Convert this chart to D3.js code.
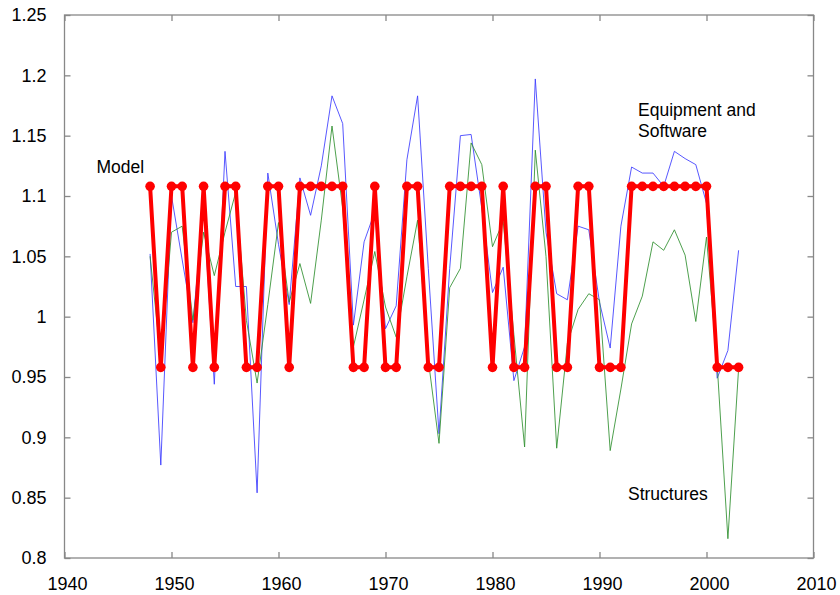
<!DOCTYPE html>
<html>
<head>
  <meta charset="utf-8">
  <script src="https://d3js.org/d3.v7.min.js"></script>
  <style>
    body { margin: 0; background: #fff; }
    svg { display: block; font-family: "Liberation Sans", Arial, sans-serif; }
  </style>
</head>
<body>
<svg width="840" height="595"></svg>
<script>
// years shown on the chart
var years = [1948, 1949, 1950, 1951, 1952, 1953, 1954, 1955, 1956, 1957,
             1958, 1959, 1960, 1961, 1962, 1963, 1964, 1965, 1966, 1967,
             1968, 1969, 1970, 1971, 1972, 1973, 1974, 1975, 1976, 1977,
             1978, 1979, 1980, 1981, 1982, 1983, 1984, 1985, 1986, 1987,
             1988, 1989, 1990, 1991, 1992, 1993, 1994, 1995, 1996, 1997,
             1998, 1999, 2000, 2001, 2002, 2003];

// Equipment and Software (blue)
var equipment = [1.052, 0.877, 1.100, 1.047, 0.995, 1.090, 0.944, 1.137, 1.025, 1.025,
                 0.854, 1.119, 1.060, 1.010, 1.115, 1.084, 1.125, 1.183, 1.160, 0.993,
                 1.062, 1.087, 0.990, 1.009, 1.130, 1.183, 1.040, 0.903, 1.040, 1.150,
                 1.151, 1.090, 1.020, 1.041, 0.947, 0.975, 1.197, 1.070, 1.019, 1.014,
                 1.075, 1.072, 1.012, 0.974, 1.075, 1.124, 1.119, 1.119, 1.108, 1.137,
                 1.131, 1.126, 1.094, 0.949, 0.972, 1.055];

// Structures (green)
var structures = [1.050, 0.965, 1.070, 1.075, 0.997, 1.070, 1.034, 1.070, 1.103, 0.997,
                  0.945, 1.010, 1.078, 1.012, 1.044, 1.011, 1.080, 1.158, 1.090, 0.975,
                  1.014, 1.054, 1.008, 0.983, 1.033, 1.080, 0.964, 0.895, 1.024, 1.040,
                  1.144, 1.126, 1.058, 1.079, 0.985, 0.892, 1.138, 1.050, 0.891, 0.978,
                  1.006, 1.019, 1.014, 0.889, 0.940, 0.994, 1.017, 1.062, 1.055, 1.072,
                  1.051, 0.996, 1.066, 0.960, 0.816, 0.957];

// Model (red, two levels)
var model = [1.108, 0.958, 1.108, 1.108, 0.958, 1.108, 0.958, 1.108, 1.108, 0.958,
             0.958, 1.108, 1.108, 0.958, 1.108, 1.108, 1.108, 1.108, 1.108, 0.958,
             0.958, 1.108, 0.958, 0.958, 1.108, 1.108, 0.958, 0.958, 1.108, 1.108,
             1.108, 1.108, 0.958, 1.108, 0.958, 0.958, 1.108, 1.108, 0.958, 0.958,
             1.108, 1.108, 0.958, 0.958, 0.958, 1.108, 1.108, 1.108, 1.108, 1.108,
             1.108, 1.108, 1.108, 0.958, 0.958, 0.958];

var xTicks = [1940, 1950, 1960, 1970, 1980, 1990, 2000, 2010];
var yTicks = [0.8, 0.85, 0.9, 0.95, 1, 1.05, 1.1, 1.15, 1.2, 1.25];

var labels = [
  {lines: ["Model"], x: 96.5, y: 173},
  {lines: ["Equipment and", "Software"], x: 638, y: 115.5},
  {lines: ["Structures"], x: 628, y: 500}
];

// plot box in page pixels
var box = {left: 64.5, right: 813.5, top: 15, bottom: 558};
var frameColor = "#888";

var svg = d3.select("svg");

var x = d3.scaleLinear().domain([1940, 2010]).range([box.left, box.right]);
var y = d3.scaleLinear().domain([0.8, 1.25]).range([box.bottom, box.top]);

// frame
svg.append("rect")
    .attr("x", box.left).attr("y", box.top)
    .attr("width", box.right - box.left).attr("height", box.bottom - box.top)
    .attr("fill", "none")
    .attr("stroke", frameColor)
    .attr("stroke-width", 1.3);

function styleAxis(g) {
  g.select(".domain").remove();
  g.selectAll(".tick line").attr("stroke", frameColor).attr("stroke-width", 1.3);
  g.selectAll(".tick text").attr("fill", "#000")
      .style("font-size", "18px")
      .style("font-family", "'Liberation Sans', Arial, sans-serif");
}

// axes with inward ticks on all four sides
svg.append("g")
    .attr("transform", "translate(" + box.left + ",0)")
    .call(d3.axisLeft(y).tickValues(yTicks).tickSizeInner(-6).tickSizeOuter(0)
      .tickPadding(18).tickFormat(d3.format("")))
    .call(styleAxis);

svg.append("g")
    .attr("transform", "translate(" + box.right + ",0)")
    .call(d3.axisRight(y).tickValues(yTicks).tickSizeInner(-6).tickSizeOuter(0).tickFormat(""))
    .call(styleAxis);

svg.append("g")
    .attr("transform", "translate(0," + box.bottom + ")")
    .call(d3.axisBottom(x).tickValues(xTicks).tickSizeInner(-6).tickSizeOuter(0)
      .tickPadding(19).tickFormat(d3.format("d")))
    .call(styleAxis)
    .selectAll(".tick text").attr("dx", 2.5);

svg.append("g")
    .attr("transform", "translate(0," + box.top + ")")
    .call(d3.axisTop(x).tickValues(xTicks).tickSizeInner(-6).tickSizeOuter(0).tickFormat(""))
    .call(styleAxis);

// series lines
function lineFor(vals) {
  return d3.line()
      .x(function(d, i) { return x(years[i]); })
      .y(function(d) { return y(d); })(vals);
}

svg.append("path")
    .attr("d", lineFor(equipment))
    .attr("fill", "none")
    .attr("stroke", "#3b3bff")
    .attr("stroke-opacity", 0.85)
    .attr("stroke-width", 1);

svg.append("path")
    .attr("d", lineFor(structures))
    .attr("fill", "none")
    .attr("stroke", "#2f8f2f")
    .attr("stroke-opacity", 0.85)
    .attr("stroke-width", 1);

svg.append("path")
    .attr("d", lineFor(model))
    .attr("fill", "none")
    .attr("stroke", "#ff0000")
    .attr("stroke-width", 4)
    .attr("stroke-linejoin", "round");

svg.selectAll("circle.model")
    .data(model)
  .enter().append("circle")
    .attr("class", "model")
    .attr("cx", function(d, i) { return x(years[i]); })
    .attr("cy", function(d) { return y(d); })
    .attr("r", 4.8)
    .attr("fill", "#ff0000");

// annotations
labels.forEach(function(l) {
  var t = svg.append("text")
      .attr("x", l.x).attr("y", l.y)
      .style("font-size", "17.5px")
      .attr("fill", "#000");
  l.lines.forEach(function(s, i) {
    t.append("tspan").attr("x", l.x).attr("dy", i === 0 ? 0 : 21).text(s);
  });
});
</script>
</body>
</html>
